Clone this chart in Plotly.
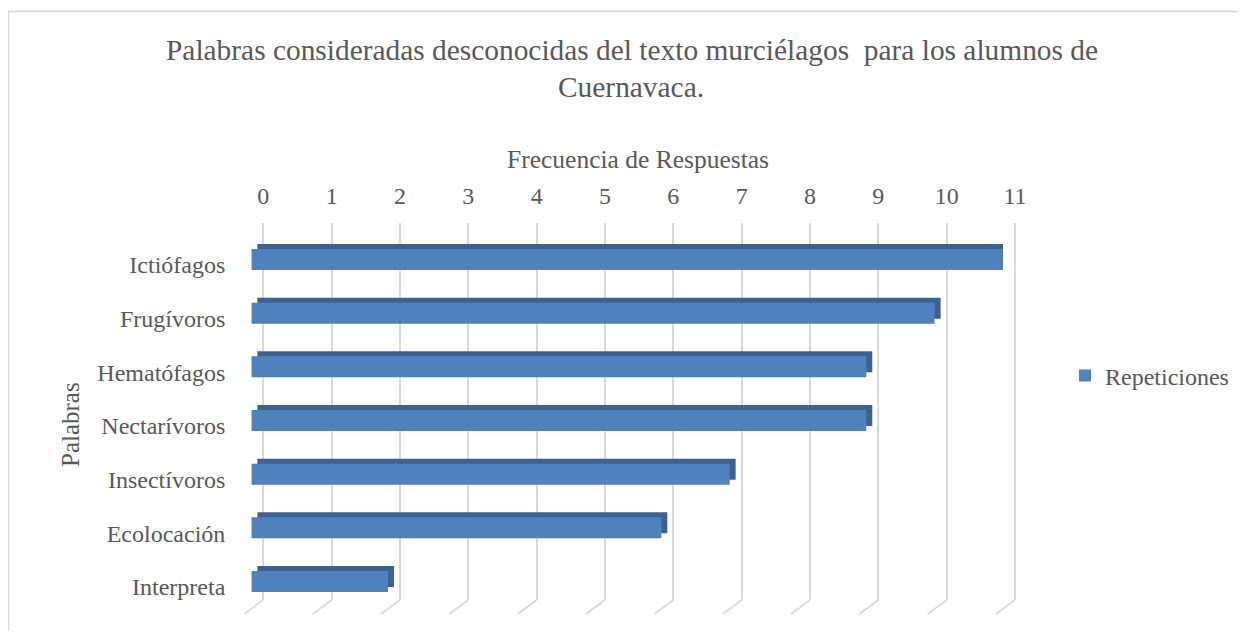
import plotly.graph_objects as go

# ---- data ----
categories = ["Ictiófagos", "Frugívoros", "Hematófagos", "Nectarívoros",
              "Insectívoros", "Ecolocación", "Interpreta"]
repeticiones = [11, 10, 9, 9, 7, 6, 2]
tick_values = list(range(0, 12))
series_name = "Repeticiones"
title_lines = ["Palabras consideradas desconocidas del texto murciélagos  para los alumnos de",
               "Cuernavaca."]
x_title = "Frecuencia de Respuestas"
y_title = "Palabras"

# ---- geometry (pixels of the 1246x639 window; page body has an 8px margin) ----
OFF = 8
W, H = 1246 - 2 * OFF, 639 - 2 * OFF
FONT = "Liberation Serif, Times New Roman, serif"
TXT = "#595959"
GRID = "#d9d9d9"

def px_x(p):
    return (p - OFF) / W

def px_y(p):
    return 1 - (p - OFF) / H

unit_px = (1015 - 263.3) / 11.0          # pixels per unit on x
slot_px = 53.67                          # category slot height
bar_w = 21 / slot_px                     # front face thickness (category units)
depth_x = 6 / unit_px                    # 3D depth shift (x units)
depth_y = 5 / slot_px                    # 3D depth shift (category units)
front_shift = 5.5 / slot_px              # front face centre above label centre
pad_l, pad_r = 25, 5                     # extra room on the back axis (px)

fig = go.Figure()

# back (top/side) faces of the 3D bars
fig.add_trace(go.Bar(
    y=categories, x=repeticiones, orientation="h",
    base=depth_x, width=bar_w,
    offset=-front_shift - depth_y - bar_w / 2,
    marker=dict(color="#3b6292", line=dict(width=0)),
    xaxis="x2", yaxis="y2", showlegend=False, hoverinfo="skip",
))
# front faces
fig.add_trace(go.Bar(
    y=categories, x=repeticiones, orientation="h",
    width=bar_w, offset=-front_shift - bar_w / 2,
    marker=dict(color="#4f81bd", line=dict(width=0)),
    name=series_name, xaxis="x2", yaxis="y2", showlegend=True,
))

# floor diagonals under each gridline
shapes = []
for v in tick_values:
    shapes.append(dict(type="line", xref="x", yref="paper",
                       x0=v, y0=px_y(600), x1=v - 19 / unit_px, y1=px_y(614),
                       line=dict(color=GRID, width=1.6), layer="below"))
# chart border
shapes.append(dict(type="rect", xref="paper", yref="paper",
                   x0=px_x(8.5), y0=px_y(700), x1=px_x(1300), y1=px_y(11.5),
                   line=dict(color=GRID, width=1.5), layer="below"))

annotations = [
    dict(text=title_lines[0], x=px_x(632), y=px_y(50), xref="paper", yref="paper",
         showarrow=False, xanchor="center", yanchor="middle",
         font=dict(family=FONT, size=29.4, color=TXT)),
    dict(text=title_lines[1], x=px_x(631), y=px_y(87), xref="paper", yref="paper",
         showarrow=False, xanchor="center", yanchor="middle",
         font=dict(family=FONT, size=29.4, color=TXT)),
    dict(text=x_title, x=px_x(638), y=px_y(160), xref="paper", yref="paper",
         showarrow=False, xanchor="center", yanchor="middle",
         font=dict(family=FONT, size=25.5, color=TXT)),
    dict(text=y_title, x=px_x(70), y=px_y(425), xref="paper", yref="paper",
         showarrow=False, xanchor="center", yanchor="middle", textangle=-90,
         font=dict(family=FONT, size=25, color=TXT)),
]

fig.update_layout(
    width=W, height=H, autosize=False,
    margin=dict(l=0, r=0, t=0, b=0, autoexpand=False),
    paper_bgcolor="white", plot_bgcolor="rgba(0,0,0,0)",
    font=dict(family=FONT, size=24, color=TXT),
    barmode="overlay",
    xaxis=dict(domain=[px_x(263.3 - pad_l), px_x(1015 + pad_r)],
               range=[-pad_l / unit_px, 11 + pad_r / unit_px],
               side="top", anchor="y", tickvals=tick_values,
               showgrid=True, gridcolor=GRID, gridwidth=1.6,
               zeroline=False, showline=False, ticks="",
               ticklabelstandoff=13, automargin=False,
               tickfont=dict(family=FONT, size=24, color=TXT)),
    yaxis=dict(domain=[px_y(600), px_y(223)], range=[0, 1], visible=False,
               anchor="x", automargin=False),
    xaxis2=dict(domain=[px_x(251.3), px_x(1003)], range=[-0.001, 11.001],
                anchor="y2", visible=False, automargin=False),
    yaxis2=dict(domain=[px_y(613.8), px_y(238.2)], anchor="x2",
                type="category", categoryorder="array",
                categoryarray=categories, autorange="reversed",
                showgrid=False, zeroline=False, showline=False, ticks="",
                ticklabelstandoff=25, automargin=False,
                tickfont=dict(family=FONT, size=24, color=TXT)),
    legend=dict(x=px_x(1065), y=px_y(376), xanchor="left", yanchor="middle",
                font=dict(family=FONT, size=24, color=TXT),
                bgcolor="rgba(0,0,0,0)", itemwidth=30),
    shapes=shapes,
    annotations=annotations,
)

fig.write_html("out.html")
